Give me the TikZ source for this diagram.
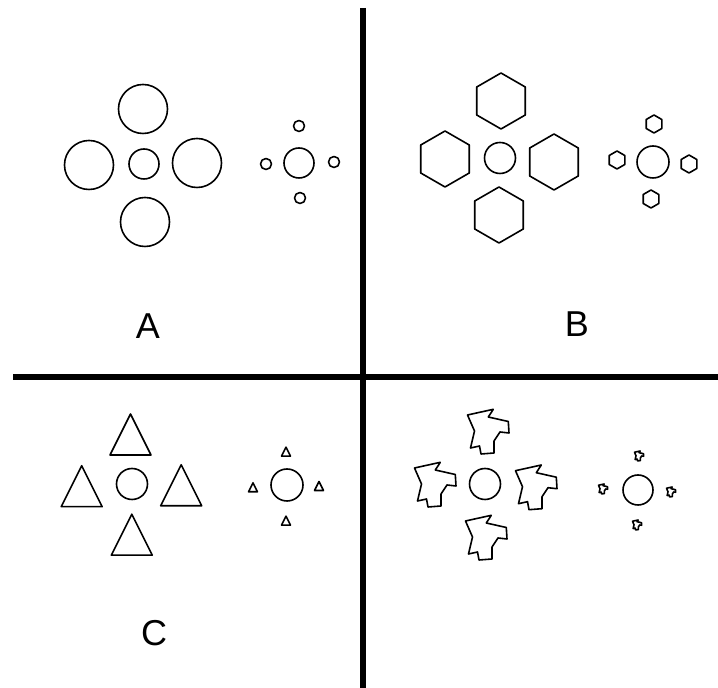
\documentclass[tikz,border=0pt]{standalone}
\usepackage{fontspec}
\setsansfont{Liberation Sans}

\tikzset{
  hexa/.pic={\draw[pic actions] (30:#1) -- (90:#1) -- (150:#1) -- (210:#1) -- (270:#1) -- (330:#1) -- cycle;},
  tri/.pic={\draw[pic actions] (0,#1/2) -- (-#1/2,-#1/2) -- (#1/2,-#1/2) -- cycle;},
  blob/.pic={\draw[pic actions] (-20.5,17) -- (5.3,22.7) -- (0.3,15) -- (20.3,10.5) -- (21,-1) -- (12,0) -- (6,-9) -- (6,-21) -- (-7,-22) -- (-8.5,-14) -- (-17.5,-16) -- (-13.5,1) -- cycle;}
}

\begin{document}
\begin{tikzpicture}[x=1pt, y=1pt, font=\sffamily\fontsize{36}{40}\selectfont, outline/.style={line width=1.6pt, line join=round}, divider/.style={line width=6pt}]
\useasboundingbox (0,0) rectangle (718,688);
\draw[divider] (363,680) -- (363,0);
\draw[divider] (13,311) -- (718,311);
% A: circles
\foreach \x/\y in {143/579, 89/523, 197/525, 145/466}{\draw[outline] (\x,\y) circle[radius=24.5];}
\foreach \x/\y in {299/562, 266/524, 334/526, 300/490}{\draw[outline] (\x,\y) circle[radius=5.5];}
\draw[outline] (144,524) circle[radius=15];
\draw[outline] (299,525) circle[radius=15];
\node (labA) at (148,362) {A};
% B: hexagons
\foreach \x/\y in {501/587, 445/529, 554/526, 499/473}{\pic[outline] at (\x,\y) {hexa=28};}
\foreach \x/\y in {654/564, 617/528, 689/524, 651/489}{\pic[outline] at (\x,\y) {hexa=9};}
\draw[outline] (500,530) circle[radius=15.5];
\draw[outline] (653,526) circle[radius=16];
\node (labB) at (577,364) {B};
% C: triangles
\foreach \x/\y in {130.5/253.5, 81.7/201.8, 181.2/202.7, 131.8/153.3}{\pic[outline] at (\x,\y) {tri=41};}
\foreach \x/\y in {286/236.3, 253/200.7, 319/202, 286/167.3}{\pic[outline] at (\x,\y) {tri=9};}
\draw[outline] (132,204) circle[radius=15.5];
\draw[outline] (287,203) circle[radius=16];
\node (labC) at (154,55) {C};
% D: odd shapes
\foreach \x/\y in {488/256, 435/203, 536/200.3, 486/150}{\pic[outline] at (\x,\y) {blob};}
\foreach \x/\y in {639/232, 603/199, 671/196, 637/163}{\pic[outline, scale=0.22] at (\x,\y) {blob};}
\draw[outline] (485,204) circle[radius=15.5];
\draw[outline] (638,198) circle[radius=15];
\end{tikzpicture}
\end{document}
